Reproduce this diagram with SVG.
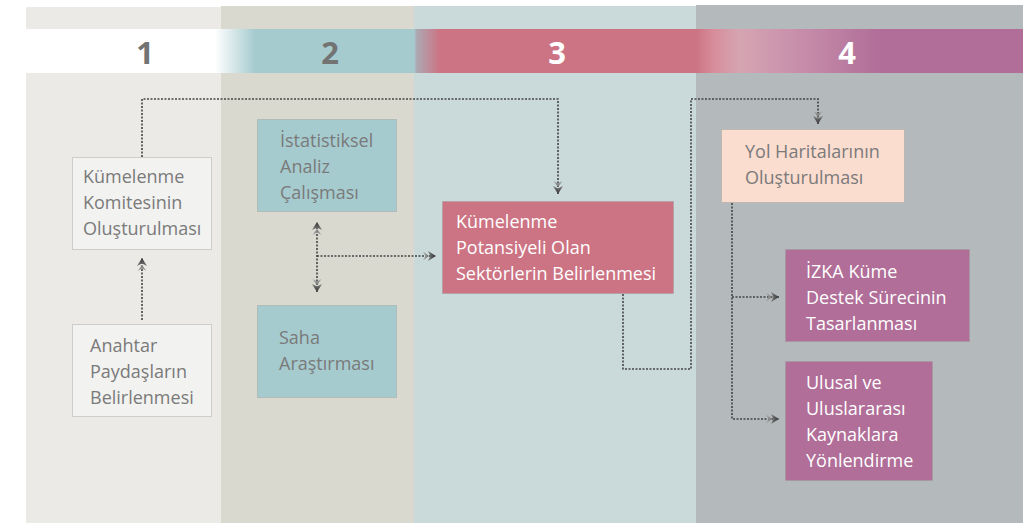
<svg xmlns="http://www.w3.org/2000/svg" width="1023" height="524" viewBox="0 0 1023 524">
<defs>
<linearGradient id="band" gradientUnits="userSpaceOnUse" x1="26" y1="0" x2="1023" y2="0">
<stop offset="0" stop-color="#FFFFFF"/>
<stop offset="0.1896" stop-color="#FFFFFF"/>
<stop offset="0.2297" stop-color="#A6CBCF"/>
<stop offset="0.389" stop-color="#A6CBCF"/>
<stop offset="0.392" stop-color="#ADA8B2"/>
<stop offset="0.4152" stop-color="#CC7484"/>
<stop offset="0.672" stop-color="#CC7484"/>
<stop offset="0.69" stop-color="#D88D9A"/>
<stop offset="0.716" stop-color="#D5A5B2"/>
<stop offset="0.78" stop-color="#C68CA9"/>
<stop offset="0.8566" stop-color="#B06E98"/>
<stop offset="1" stop-color="#B06E98"/>
</linearGradient>
<linearGradient id="arr" x1="0" y1="0" x2="1" y2="0">
<stop offset="0" stop-color="#A8A8A8"/>
<stop offset="1" stop-color="#333333"/>
</linearGradient>
<marker id="ah" viewBox="-1 -5.5 15 11" refX="13" refY="0" markerWidth="15" markerHeight="11" markerUnits="userSpaceOnUse" orient="auto-start-reverse">
<path d="M0,-4.5 L6,0 L0,4.5 L2.5,0 Z M5,-5 L13,0 L5,5 L7.5,0 Z" fill="url(#arr)"/>
</marker>
<style>
.t{font-family:"Open Sans","Liberation Sans",sans-serif;font-size:18px;fill:#7A7A7A}
.w{fill:#FFFFFF}
.num{font-family:"Open Sans","Liberation Sans",sans-serif;font-size:31px;font-weight:bold;text-anchor:middle}
.box{stroke:#9A9A9A;stroke-width:0.8;stroke-dasharray:1 1}
.c{fill:none;stroke:#444444;stroke-width:1.6;stroke-dasharray:2 1.5}
.ce{marker-end:url(#ah)}
</style>
</defs>
<rect width="1023" height="524" fill="#FFFFFF"/>
<g id="columns">
<rect x="26" y="7" width="195" height="516" fill="#EBEAE6"/>
<rect x="221" y="6" width="193" height="517" fill="#D9D9D0"/>
<rect x="414" y="6" width="282" height="517" fill="#CAD9D9"/>
<rect x="696" y="5" width="327" height="518" fill="#B4B9BB"/>
<rect x="26" y="29" width="997" height="44" fill="url(#band)"/>
<text class="num" x="145" y="64" fill="#737373">1</text>
<text class="num" x="330" y="64" fill="#737373">2</text>
<text class="num" x="557" y="64" fill="#FFFFFF">3</text>
<text class="num" x="847" y="64" fill="#FFFFFF">4</text>
</g>
<g id="connectors">
<path class="c ce" d="M142,157 V99 H558 V194"/>
<path class="c ce" d="M142,320 V258"/>
<path class="c ce" d="M317,292 V222" marker-start="url(#ah)"/>
<path class="c ce" d="M317,256 H436"/>
<path class="c ce" d="M623,294 V369 H691 V99 H818 V124"/>
<path class="c ce" d="M732,203 V419 H779"/>
<path class="c ce" d="M732,297 H779"/>
</g>
<g id="n1">
<rect class="box" x="72.5" y="157.5" width="139" height="92" fill="#F2F2F0"/>
<text class="t" x="83" y="183">Kümelenme</text>
<text class="t" x="83" y="209">Komitesinin</text>
<text class="t" x="83" y="235">Oluşturulması</text>
</g>
<g id="n2">
<rect class="box" x="72.5" y="324.5" width="139" height="92" fill="#F2F2F0"/>
<text class="t" x="90" y="352">Anahtar</text>
<text class="t" x="90" y="378">Paydaşların</text>
<text class="t" x="90" y="404">Belirlenmesi</text>
</g>
<g id="n3">
<rect class="box" x="257.5" y="119.5" width="139" height="92" fill="#A6CBCF"/>
<text class="t" x="280" y="147">İstatistiksel</text>
<text class="t" x="280" y="173">Analiz</text>
<text class="t" x="280" y="199">Çalışması</text>
</g>
<g id="n4">
<rect class="box" x="257.5" y="305.5" width="139" height="92" fill="#A6CBCF"/>
<text class="t" x="279" y="344">Saha</text>
<text class="t" x="279" y="370">Araştırması</text>
</g>
<g id="n5">
<rect class="box" x="442.5" y="201.5" width="231" height="92" fill="#CC7484"/>
<text class="t w" x="456" y="228">Kümelenme</text>
<text class="t w" x="456" y="254">Potansiyeli Olan</text>
<text class="t w" x="456" y="280">Sektörlerin Belirlenmesi</text>
</g>
<g id="n6">
<rect class="box" x="721.5" y="129.5" width="183" height="73" fill="#FBDDD0"/>
<text class="t" x="745" y="158">Yol Haritalarının</text>
<text class="t" x="745" y="184">Oluşturulması</text>
</g>
<g id="n7">
<rect class="box" x="785.5" y="249.5" width="184" height="92" fill="#B06E98"/>
<text class="t w" x="806" y="278">İZKA Küme</text>
<text class="t w" x="806" y="304">Destek Sürecinin</text>
<text class="t w" x="806" y="330">Tasarlanması</text>
</g>
<g id="n8">
<rect class="box" x="785.5" y="361.5" width="147" height="119" fill="#B06E98"/>
<text class="t w" x="806" y="389">Ulusal ve</text>
<text class="t w" x="806" y="415">Uluslararası</text>
<text class="t w" x="806" y="441">Kaynaklara</text>
<text class="t w" x="806" y="467">Yönlendirme</text>
</g>
</svg>
